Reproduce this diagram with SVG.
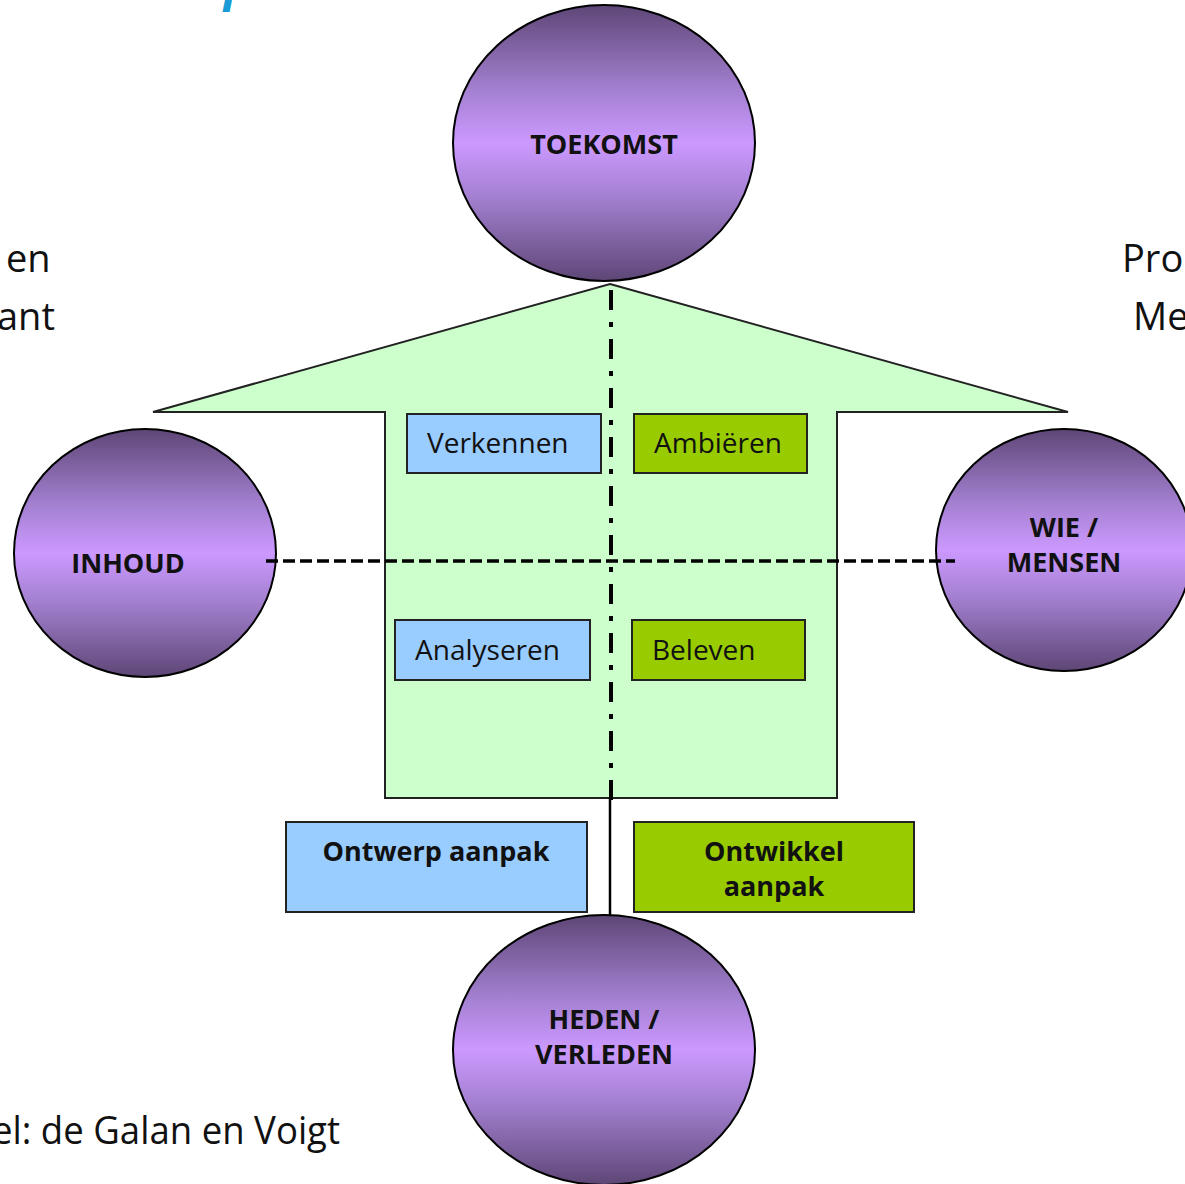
<svg xmlns="http://www.w3.org/2000/svg" width="1185" height="1184" viewBox="0 0 1185 1184">
<defs>
<linearGradient id="purple" x1="0" y1="0" x2="0" y2="1">
<stop offset="0" stop-color="#5e4676"/>
<stop offset="0.3" stop-color="#a27fcf"/>
<stop offset="0.5" stop-color="#cc99ff"/>
<stop offset="0.7" stop-color="#a27fcf"/>
<stop offset="1" stop-color="#5e4676"/>
</linearGradient>
</defs>
<style>
.node ellipse{fill:url(#purple);stroke:#000;stroke-width:2}
.lbl{font-family:"Open Sans","Noto Sans",sans-serif;font-weight:bold;font-size:27px;fill:#111;text-anchor:middle}
.box{stroke:#222;stroke-width:2}
.blue{fill:#99ccff}
.green{fill:#99cc00}
.bt{font-family:"Open Sans","Noto Sans",sans-serif;font-size:28px;fill:#111}
.bb{font-family:"Open Sans","Noto Sans",sans-serif;font-size:27px;font-weight:bold;fill:#111;text-anchor:middle}
.side{font-family:"Open Sans","Noto Sans",sans-serif;font-size:38px;fill:#111}
</style>
<rect width="1185" height="1184" fill="#fff"/>
<text x="224" y="0" font-family="Open Sans, sans-serif" font-size="48" font-weight="bold" font-style="italic" fill="#1a9ad6">p</text>
<text class="side" x="6" y="272">en</text>
<text class="side" x="-3" y="330">ant</text>
<text class="side" x="1122" y="272">Pro</text>
<text class="side" x="1133" y="330">Me</text>
<text class="side" x="-8" y="1144" textLength="348" lengthAdjust="spacingAndGlyphs">el: de Galan en Voigt</text>
<g id="arrow">
<polygon points="610,284 1068,412 837,412 837,798 385,798 385,412 153,412" fill="#ccffcc" stroke="#222" stroke-width="2"/>
</g>
<g id="toekomst" class="node"><ellipse cx="604" cy="143" rx="151" ry="138"/><text class="lbl" x="604" y="154">TOEKOMST</text></g>
<g id="inhoud" class="node"><ellipse cx="145" cy="553" rx="131" ry="124"/><text class="lbl" x="128" y="573">INHOUD</text></g>
<g id="wie" class="node"><ellipse cx="1064" cy="550" rx="128" ry="121"/><text class="lbl" x="1064" y="537">WIE /</text><text class="lbl" x="1064" y="572">MENSEN</text></g>
<g id="heden" class="node"><ellipse cx="604" cy="1050" rx="151" ry="135"/><text class="lbl" x="604" y="1029">HEDEN /</text><text class="lbl" x="604" y="1064">VERLEDEN</text></g>
<g id="connectors" fill="none" stroke="#000">
<line x1="611" y1="290" x2="611" y2="800" stroke-width="4" stroke-dasharray="20,12,5,12"/>
<line x1="610" y1="798" x2="610" y2="915" stroke-width="2.5"/>
<line x1="266" y1="561" x2="955" y2="561" stroke-width="3.5" stroke-dasharray="12,5"/>
</g>
<g id="verkennen"><rect class="box blue" x="407" y="414" width="194" height="59"/><text class="bt" x="427" y="453">Verkennen</text></g>
<g id="ambieren"><rect class="box green" x="634" y="414" width="173" height="59"/><text class="bt" x="654" y="453">Ambiëren</text></g>
<g id="analyseren"><rect class="box blue" x="395" y="620" width="195" height="60"/><text class="bt" x="415" y="660">Analyseren</text></g>
<g id="beleven"><rect class="box green" x="632" y="620" width="173" height="60"/><text class="bt" x="652" y="660">Beleven</text></g>
<g id="ontwerp"><rect class="box blue" x="286" y="822" width="301" height="90"/><text class="bb" x="436" y="861">Ontwerp aanpak</text></g>
<g id="ontwikkel"><rect class="box green" x="634" y="822" width="280" height="90"/><text class="bb" x="774" y="861">Ontwikkel</text><text class="bb" x="774" y="896">aanpak</text></g>
</svg>
